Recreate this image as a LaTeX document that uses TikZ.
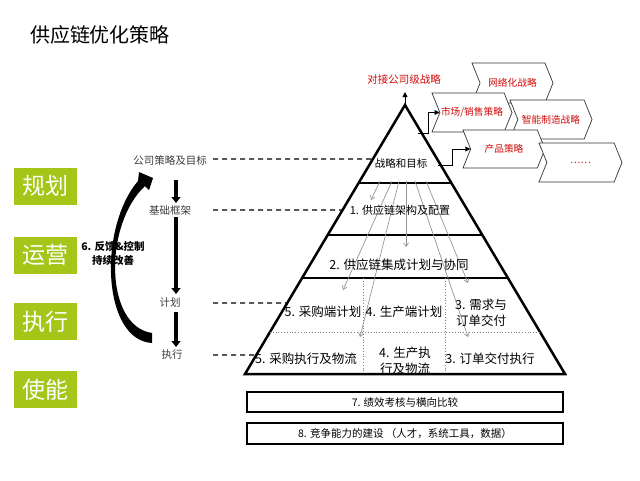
\documentclass[tikz,border=0pt]{standalone}
\usepackage{fontspec}
\setmainfont{Noto Sans CJK SC}
\usetikzlibrary{arrows.meta,shapes.symbols,calc}
\definecolor{limeg}{RGB}{165,197,24}
\definecolor{darkred}{RGB}{210,10,10}
\definecolor{lbl}{RGB}{60,60,60}
\begin{document}
\begin{tikzpicture}[x=1pt,y=-1pt,
  pyr/.style={line width=2.5pt,line join=miter},
  band/.style={line width=2.5pt},
  dotline/.style={gray,line width=0.8pt,dotted},
  garrow/.style={gray!85,line width=0.7pt,-{Straight Barb[length=3.5pt,width=5pt]}},
  dashl/.style={black,line width=1.3pt,dash pattern=on 5pt off 4pt},
  barrow/.style={line width=3.5pt,-{Triangle[length=6pt,width=9pt]}},
  conn/.style={line width=0.9pt,-{Triangle[length=5pt,width=5pt]}},
  chev/.style={signal,signal to=east,signal from=west,draw=black!80,line width=0.7pt,fill=white,
    signal pointer angle=136,inner sep=0pt,text=darkred,font=\fontsize{9.7}{12}\selectfont},
  greenbox/.style={fill=limeg,text=white,minimum width=63pt,minimum height=37pt,inner sep=0pt,
    font=\fontsize{23}{26}\selectfont},
  leftlbl/.style={text=lbl,inner sep=0pt,font=\fontsize{10.5}{12}\selectfont},
  ptxt/.style={inner sep=0pt,align=center,font=\fontsize{12.5}{15.5}\selectfont},
  boxl/.style={draw,line width=2.5pt,minimum width=316pt,inner sep=0pt,font=\fontsize{10.5}{12}\selectfont}
]
\useasboundingbox (0,0) rectangle (640,480);

% title
\node[inner sep=0pt,font=\fontsize{20}{24}\selectfont] (title) at (100,35) {供应链优化策略};

% green labels
\node[greenbox] (g1) at (45.5,186) {规划};
\node[greenbox] (g2) at (45.5,255) {运营};
\node[greenbox] (g3) at (45.5,321.5) {执行};
\node[greenbox] (g4) at (45.5,389.5) {使能};

% pyramid
\coordinate (apex) at (405,105);
\coordinate (bl) at (245,374);
\coordinate (br) at (565,374);
\draw[pyr] (apex) -- (br) -- (bl) -- cycle;
\foreach \t in {0.29,0.4833,0.6431}{
  \draw[band] ($(apex)!\t!(bl)$) -- ($(apex)!\t!(br)$);
}
\draw[dotline] ($(apex)!0.8439!(bl)$) -- ($(apex)!0.8439!(br)$);
\draw[dotline] (363,278) -- (363,373);
\draw[dotline] (445,278) -- (445,373);

% gray arrows
\coordinate (s1) at (380,181); \coordinate (e1) at (371,200);
\coordinate (s2) at (392,181); \coordinate (e2) at (343,290);
\coordinate (s3) at (399,181); \coordinate (e3) at (360,337);
\coordinate (s4) at (406,181); \coordinate (e4) at (406,247);
\coordinate (s5) at (415,181); \coordinate (e5) at (468,337);
\coordinate (s6) at (426,181); \coordinate (e6) at (468,283);
\foreach \i in {1,...,6}{ \draw[garrow] (s\i) -- (e\i); }

% pyramid texts
\node[inner sep=0pt,font=\fontsize{10.5}{12}\selectfont] (t0) at (401,163) {战略和目标};
\node[inner sep=0pt,font=\fontsize{11}{13}\selectfont] (t1) at (400,210) {1. 供应链架构及配置};
\node[ptxt] (t2) at (399,265) {2. 供应链集成计划与协同};
\node[ptxt] (t5a) at (323,312) {5. 采购端计划};
\node[ptxt] (t4a) at (404,312) {4. 生产端计划};
\node[ptxt] (t3a) at (481,313) {3. 需求与\\订单交付};
\node[ptxt] (t5b) at (306,359) {5. 采购执行及物流};
\node[ptxt] (t4b) at (405,361) {4. 生产执\\行及物流};
\node[ptxt] (t3b) at (490,359) {3. 订单交付执行};

% bottom boxes
\node[boxl,minimum height=20pt] (b7) at (405,402) {7. 绩效考核与横向比较};
\node[boxl,minimum height=21pt] (b8) at (405,433.5) {8. 竞争能力的建设 （人才，系统工具，数据）};

% top
\node[inner sep=0pt,text=darkred,font=\fontsize{10.5}{12}\selectfont] (top) at (404,79) {对接公司级战略};
\coordinate (toptip) at (405,92);
\draw[conn] (apex) -- (toptip);

% chevrons
\node[chev,minimum width=81pt,minimum height=40pt] (net) at (512.5,83) {网络化战略};
\node[chev,minimum width=80pt,minimum height=39pt] (mkt) at (472,112.5) {市场/销售策略};
\node[chev,minimum width=82pt,minimum height=39pt] (smart) at (551,119.5) {智能制造战略};
\node[chev,minimum width=82pt,minimum height=38pt] (prod) at (504,149) {产品策略};
\node[chev,minimum width=83pt,minimum height=39pt] (more) at (580.5,162.5) {……};

\coordinate (k1) at (418,133);
\coordinate (k2) at (438,165);
\draw[conn] (k1) -- ++(10,0) |- (mkt.west);
\draw[conn] (k2) -- ++(14,0) |- (prod.west);

% left labels
\node[leftlbl] (lc) at (170,160) {公司策略及目标};
\node[leftlbl] (lb) at (170,210) {基础框架};
\node[leftlbl] (lp) at (170,303) {计划};
\node[leftlbl] (le) at (172,355) {执行};

\draw[dashl] (213,159) -- ($(apex)!0.2007!(bl)$);
\draw[dashl] (213,210) -- ($(apex)!0.3903!(bl)$);
\draw[dashl] (213,303) -- ($(apex)!0.7361!(bl)$);
\draw[dashl] (213,355) -- ($(apex)!0.9294!(bl)$);

% vertical black arrows
\coordinate (v1a) at (176,180); \coordinate (v1b) at (176,203);
\coordinate (v2a) at (176,217); \coordinate (v2b) at (176,294);
\coordinate (v3a) at (176,312); \coordinate (v3b) at (176,347);
\draw[barrow] (v1a) -- (v1b);
\draw[barrow] (v2a) -- (v2b);
\draw[barrow] (v3a) -- (v3b);

% curved feedback arrow
\fill[black] (152,343) .. controls (102,340) and (98,228) .. (138,181)
  -- (139,172) -- (153,178) -- (149,190) -- (145,186)
  .. controls (104,224) and (104,326) .. (152,333) -- cycle;
\node[inner sep=0pt,align=center,font=\bfseries\fontsize{10.5}{14}\selectfont] (fb) at (113,253) {6. 反馈\&控制\\持续改善};
\end{tikzpicture}
\end{document}
